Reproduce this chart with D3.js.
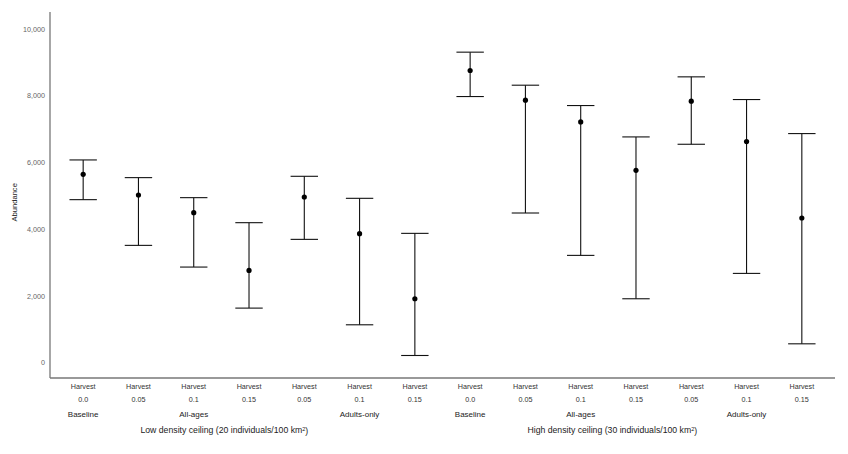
<!DOCTYPE html>
<html>
<head>
<meta charset="utf-8">
<script src="https://cdn.jsdelivr.net/npm/d3@7"></script>
<style>
    body { margin: 0; background: #fff; }
    text { font-family: "Liberation Sans", Arial, sans-serif; }
</style>
</head>
<body>
<div id="chart"></div>
<script>

// Data
var harvestRates = ["0.0", "0.05", "0.1", "0.15", "0.05", "0.1", "0.15",
                    "0.0", "0.05", "0.1", "0.15", "0.05", "0.1", "0.15"];
var meanValues = [5640, 5020, 4490, 2760, 4960, 3860, 1910,
                  8750, 7860, 7210, 5760, 7830, 6620, 4330];
var lowerValues = [4880, 3510, 2860, 1630, 3690, 1130, 210,
                   7970, 4480, 3210, 1910, 6540, 2670, 560];
var upperValues = [6070, 5540, 4940, 4190, 5580, 4920, 3870,
                   9300, 8310, 7700, 6760, 8560, 7880, 6860];
var strategyLabels = [
    { label: "Baseline", from: 0, to: 0 },
    { label: "All-ages", from: 1, to: 3 },
    { label: "Adults-only", from: 4, to: 6 },
    { label: "Baseline", from: 7, to: 7 },
    { label: "All-ages", from: 8, to: 10 },
    { label: "Adults-only", from: 11, to: 13 }
];
var ceilingLabels = [
    { text: "Low density ceiling (20 individuals/100 km", at: 1 },
    { text: "High density ceiling (30 individuals/100 km", at: 8 }
];
var yTicks = [0, 2000, 4000, 6000, 8000, 10000];

var svgWidth = 848;
var svgHeight = 454;
var margin = { top: 12, right: 13, bottom: 76, left: 50 };
var width = svgWidth - margin.left - margin.right;
var height = svgHeight - margin.top - margin.bottom;

var svg = d3.select("#chart")
    .append("svg")
    .attr("width", svgWidth)
    .attr("height", svgHeight);

var chartGroup = svg.append("g")
    .attr("transform", `translate(${margin.left}, ${margin.top})`);

var rows = meanValues.map(function(d, i) {
    return { i: i, mean: d, lower: lowerValues[i], upper: upperValues[i], rate: harvestRates[i] };
});

// Scales
var xScale = d3.scalePoint()
    .domain(d3.range(rows.length))
    .range([0, width])
    .padding(0.6);

var yScale = d3.scaleLinear()
    .domain([0, 10000])
    .range([350.5, 16.8]);

// Y axis
var leftAxis = d3.axisLeft(yScale)
    .tickValues(yTicks)
    .tickSize(0)
    .tickPadding(5)
    .tickFormat(d3.format(","));

var yAxisG = chartGroup.append("g").call(leftAxis);
yAxisG.select(".domain").remove();
yAxisG.selectAll("text")
    .attr("font-size", "7.2px")
    .attr("fill", "#666");

chartGroup.append("line")
    .attr("x1", 0).attr("x2", 0)
    .attr("y1", 0).attr("y2", height)
    .attr("stroke", "#777")
    .attr("stroke-width", 1.3);

chartGroup.append("line")
    .attr("x1", 0).attr("x2", width)
    .attr("y1", height).attr("y2", height)
    .attr("stroke", "#777")
    .attr("stroke-width", 1.3);

// Y label
chartGroup.append("text")
    .attr("transform", "rotate(-90)")
    .attr("x", -yScale(4800))
    .attr("y", -33)
    .style("text-anchor", "middle")
    .attr("font-size", "7.6px")
    .attr("fill", "#222")
    .text("Abundance");

// Error bars
var capHalf = 13.7;
var bars = chartGroup.selectAll(".bar")
    .data(rows)
    .enter()
    .append("g")
    .attr("class", "bar");

bars.append("line")
    .attr("x1", d => xScale(d.i)).attr("x2", d => xScale(d.i))
    .attr("y1", d => yScale(d.lower)).attr("y2", d => yScale(d.upper))
    .attr("stroke", "#111").attr("stroke-width", 1.1);

bars.append("line")
    .attr("x1", d => xScale(d.i) - capHalf).attr("x2", d => xScale(d.i) + capHalf)
    .attr("y1", d => yScale(d.upper)).attr("y2", d => yScale(d.upper))
    .attr("stroke", "#111").attr("stroke-width", 1.1);

bars.append("line")
    .attr("x1", d => xScale(d.i) - capHalf).attr("x2", d => xScale(d.i) + capHalf)
    .attr("y1", d => yScale(d.lower)).attr("y2", d => yScale(d.lower))
    .attr("stroke", "#111").attr("stroke-width", 1.1);

bars.append("circle")
    .attr("cx", d => xScale(d.i))
    .attr("cy", d => yScale(d.mean))
    .attr("r", 2.6)
    .attr("fill", "#000");

// Category labels
var catLabels = chartGroup.selectAll(".cat")
    .data(rows)
    .enter()
    .append("text")
    .attr("class", "cat")
    .attr("x", d => xScale(d.i))
    .attr("y", height + 11)
    .attr("text-anchor", "middle")
    .attr("font-size", "7.2px")
    .attr("fill", "#333");

catLabels.append("tspan")
    .attr("x", d => xScale(d.i))
    .text("Harvest");
catLabels.append("tspan")
    .attr("x", d => xScale(d.i))
    .attr("dy", "1.75em")
    .text(d => d.rate);

// Strategy labels
chartGroup.selectAll(".strategy")
    .data(strategyLabels)
    .enter()
    .append("text")
    .attr("class", "strategy")
    .attr("x", d => (xScale(d.from) + xScale(d.to)) / 2)
    .attr("y", height + 39)
    .attr("text-anchor", "middle")
    .attr("font-size", "8px")
    .attr("fill", "#222")
    .text(d => d.label);

// Density ceiling labels
var ceil = chartGroup.selectAll(".ceiling")
    .data(ceilingLabels)
    .enter()
    .append("text")
    .attr("class", "ceiling")
    .attr("x", d => xScale(d.at) + 2)
    .attr("y", height + 55)
    .attr("font-size", "8.7px")
    .attr("fill", "#222");

ceil.append("tspan").text(d => d.text);
ceil.append("tspan").attr("dy", "-0.45em").attr("font-size", "5.5px").text("2");
ceil.append("tspan").attr("dy", "0.45em").text(")");

</script>
</body>
</html>
